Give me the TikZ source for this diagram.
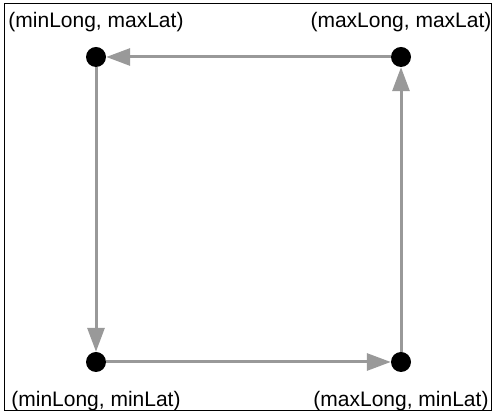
\documentclass[tikz,border=0pt]{standalone}
\usepackage{fontspec}
\setmainfont{Liberation Sans}
\usepackage{tikz}
\usetikzlibrary{arrows.meta,positioning}
\definecolor{cLine}{RGB}{153,153,153}
\tikzset{
  pt/.style={circle, fill=black, inner sep=0pt, minimum size=20pt},
  arr/.style={-{Triangle[length=24pt, width=17pt]}, line width=3pt, draw=cLine, fill=cLine},
  lbl/.style={inner sep=0pt, font=\fontsize{21}{25}\selectfont}
}

\begin{document}
\begin{tikzpicture}[x=1pt, y=1pt, node distance=15pt]
  \useasboundingbox (0,0) rectangle (493,414);
  \draw[line width=1pt] (4,3) rectangle (491,410);
  \node[pt] (tl) at (96,357) {};
  \node[pt] (tr) at (401,357) {};
  \node[pt] (bl) at (96,52) {};
  \node[pt] (br) at (401,52) {};
  \node[lbl, above=15pt of tl] (ltl) {(minLong, maxLat)};
  \node[lbl, above=15pt of tr] (ltr) {(maxLong, maxLat)};
  \node[lbl, below=19pt of bl] (lbl) {(minLong, minLat)};
  \node[lbl, below=19pt of br] (lbr) {(maxLong, minLat)};
  \draw[arr] (tr) -- (tl);
  \draw[arr] (tl) -- (bl);
  \draw[arr] (bl) -- (br);
  \draw[arr] (br) -- (tr);
\end{tikzpicture}
\end{document}
